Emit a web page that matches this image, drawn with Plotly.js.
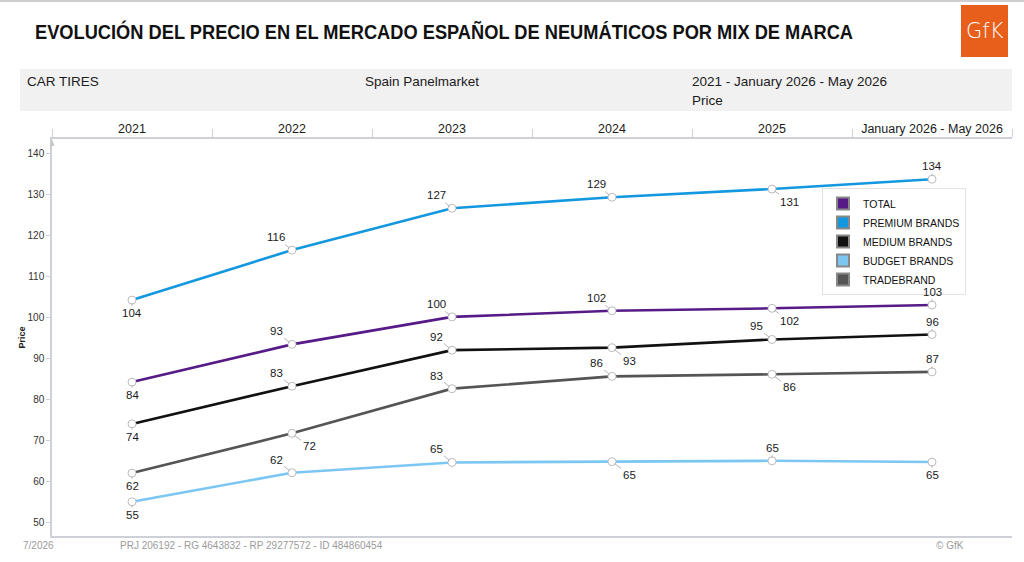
<!DOCTYPE html>
<html>
<head>
<meta charset="utf-8">
<script src="https://cdn.plot.ly/plotly-3.0.1.min.js"></script>
<style>
  html, body { margin: 0; padding: 0; background: #ffffff; }
  #chart { width: 1024px; height: 562px; }
</style>
</head>
<body>
<div id="chart"></div>
<script>
// ---- Data ----
const categories = ['2021', '2022', '2023', '2024', '2025', 'January 2026 - May 2026'];
const seriesNames = ['TOTAL', 'PREMIUM BRANDS', 'MEDIUM BRANDS', 'BUDGET BRANDS', 'TRADEBRAND'];
const total = [84.2, 93.4, 100.1, 101.6, 102.2, 103.0];
const premiumBrands = [104.2, 116.4, 126.6, 129.3, 131.3, 133.7];
const mediumBrands = [74.0, 83.2, 92.0, 92.6, 94.6, 95.8];
const budgetBrands = [55.0, 62.1, 64.6, 64.8, 65.0, 64.7];
const tradebrand = [62.0, 71.7, 82.6, 85.6, 86.1, 86.7];

// ---- Styles ----
const colors = {
  'TOTAL': '#561b87',
  'PREMIUM BRANDS': '#1398e0',
  'MEDIUM BRANDS': '#111111',
  'BUDGET BRANDS': '#7cc6f2',
  'TRADEBRAND': '#555555'
};
// label placement per point: b = below, t = above, tl = above-left, br = below-right
const labelPlacement = {
  'TOTAL': ['b', 'tl', 'tl', 'tl', 'br', 't'],
  'PREMIUM BRANDS': ['b', 'tl', 'tl', 'tl', 'br', 't'],
  'MEDIUM BRANDS': ['b', 'tl', 'tl', 'br', 'tl', 't'],
  'BUDGET BRANDS': ['b', 'tl', 'tl', 'br', 't', 'b'],
  'TRADEBRAND': ['b', 'br', 'tl', 'tl', 'br', 't']
};
const offsets = { b: [0, 13], t: [0, -13], tl: [-16, -13], br: [17, 13] };

const seriesValues = {
  'TOTAL': total,
  'PREMIUM BRANDS': premiumBrands,
  'MEDIUM BRANDS': mediumBrands,
  'BUDGET BRANDS': budgetBrands,
  'TRADEBRAND': tradebrand
};

// ---- Plot geometry (pixels) ----
const W = 1024, H = 562;
const L = 52, R = 1012, T = 139, B = 536;
const px = (x) => (x - L) / (R - L);
const py = (y) => (B - y) / (B - T);

const FONT = 'Liberation Sans, Arial, sans-serif';

const traces = [];
const drawOrder = ['BUDGET BRANDS', 'TRADEBRAND', 'MEDIUM BRANDS', 'TOTAL', 'PREMIUM BRANDS'];
drawOrder.forEach(name => {
  traces.push({
    type: 'scatter',
    mode: 'lines+markers',
    x: categories,
    y: seriesValues[name],
    name: name,
    showlegend: false,
    line: { color: colors[name], width: 2.6 },
    marker: { size: 8, color: '#ffffff', line: { color: '#bdbdbd', width: 1 } },
    hoverinfo: 'x+y+name'
  });
});
// legend entries (square swatches)
seriesNames.forEach(name => {
  traces.push({
    type: 'scatter',
    mode: 'markers',
    x: [null],
    y: [null],
    name: name,
    showlegend: true,
    marker: { symbol: 'square', size: 11, color: colors[name], line: { color: '#888', width: 0.5 } }
  });
});

const annotations = [];
seriesNames.forEach(name => {
  const vals = seriesValues[name];
  vals.forEach((v, i) => {
    const off = offsets[labelPlacement[name][i]];
    annotations.push({
      x: categories.indexOf(categories[i]), y: v, xref: 'x', yref: 'y',
      text: String(Math.round(v)),
      showarrow: true, arrowhead: 0, arrowwidth: 1, arrowcolor: '#b5b5b5',
      standoff: 3, ax: off[0], ay: off[1],
      font: { family: FONT, size: 11.5, color: '#1b1b1b' }
    });
  });
});

// header texts
const hdrFont = { family: FONT, size: 13.5, color: '#1b1b1b' };
annotations.push(
  { xref: 'paper', yref: 'paper', x: px(25), y: py(82), xanchor: 'left', yanchor: 'middle', text: 'CAR TIRES', showarrow: false, font: hdrFont },
  { xref: 'paper', yref: 'paper', x: px(363), y: py(82), xanchor: 'left', yanchor: 'middle', text: 'Spain Panelmarket', showarrow: false, font: hdrFont },
  { xref: 'paper', yref: 'paper', x: px(690), y: py(82), xanchor: 'left', yanchor: 'middle', text: '2021 - January 2026 - May 2026', showarrow: false, font: hdrFont },
  { xref: 'paper', yref: 'paper', x: px(690), y: py(100), xanchor: 'left', yanchor: 'middle', text: 'Price', showarrow: false, font: hdrFont }
);
// footer texts
const ftFont = { family: FONT, size: 10, color: '#9a9a9a' };
annotations.push(
  { xref: 'paper', yref: 'paper', x: px(21), y: py(545), xanchor: 'left', yanchor: 'middle', text: '7/2026', showarrow: false, font: ftFont },
  { xref: 'paper', yref: 'paper', x: px(118), y: py(545), xanchor: 'left', yanchor: 'middle', text: 'PRJ 206192 - RG 4643832 - RP 29277572 - ID 484860454', showarrow: false, font: ftFont },
  { xref: 'paper', yref: 'paper', x: px(934), y: py(545), xanchor: 'left', yanchor: 'middle', text: '© GfK', showarrow: false, font: ftFont }
);
// logo text
annotations.push(
  { xref: 'paper', yref: 'paper', x: px(984.5), y: py(31), xanchor: 'center', yanchor: 'middle', text: 'GfK', showarrow: false, font: { family: 'DejaVu Sans, sans-serif', size: 21, color: '#ffffff', weight: 300 } }
);

const shapes = [
  { type: 'line', xref: 'paper', yref: 'paper', x0: px(0), x1: px(1024), y0: py(1), y1: py(1), line: { color: '#cfcfcf', width: 2 } },
  { type: 'rect', xref: 'paper', yref: 'paper', x0: px(20), x1: px(1012), y0: py(111), y1: py(69), fillcolor: '#f1f1f1', line: { width: 0 }, layer: 'below' },
  { type: 'rect', xref: 'paper', yref: 'paper', x0: px(961), x1: px(1008), y0: py(57), y1: py(5), fillcolor: '#e85f1c', line: { width: 0 } },
  { type: 'path', xref: 'paper', yref: 'paper',
    path: 'M ' + px(49.5) + ' ' + py(146) + ' L ' + px(54.5) + ' ' + py(146) + ' L ' + px(52) + ' ' + py(139) + ' Z',
    fillcolor: '#c8c8c8', line: { width: 0 } }
];

const layout = {
  width: W, height: H,
  margin: { l: L, r: W - R, t: T, b: H - B, pad: 0 },
  paper_bgcolor: '#ffffff',
  plot_bgcolor: '#ffffff',
  font: { family: FONT, color: '#1b1b1b' },
  title: {
    text: 'EVOLUCIÓN DEL PRECIO EN EL MERCADO ESPAÑOL DE NEUMÁTICOS POR MIX DE MARCA',
    xref: 'container', yref: 'container',
    x: 35 / W, xanchor: 'left', y: 1 - 32 / H, yanchor: 'middle',
    font: { family: 'Liberation Sans, Arial, sans-serif', size: 20, color: '#111111', weight: 'bold' }
  },
  xaxis: {
    type: 'category',
    side: 'top',
    range: [-0.5, 5.5],
    showline: true, linecolor: '#cdd0d6', linewidth: 1.5, mirror: true,
    ticks: 'outside', tickson: 'boundaries', ticklen: 8, tickcolor: '#cdd0d6', tickwidth: 1,
    ticklabelstandoff: -1,
    tickfont: { family: FONT, size: 12.5, color: '#1b1b1b' },
    showgrid: false, zeroline: false, fixedrange: true
  },
  yaxis: {
    range: [46.66, 143.5],
    tickvals: [50, 60, 70, 80, 90, 100, 110, 120, 130, 140],
    showline: true, linecolor: '#cdd0d6', linewidth: 1.5,
    ticks: 'outside', ticklen: 4, tickcolor: '#cdd0d6',
    tickfont: { family: FONT, size: 10, color: '#333333' },
    showgrid: false, zeroline: false, fixedrange: true,
    title: { text: '<b>Price</b>', standoff: 0, font: { family: FONT, size: 9, color: '#222222' } }
  },
  legend: {
    x: px(822), y: py(188), xanchor: 'left', yanchor: 'top',
    bgcolor: '#ffffff', bordercolor: '#e2e2e2', borderwidth: 1,
    font: { family: FONT, size: 10.5, color: '#111111' },
    tracegroupgap: 0, itemsizing: 'constant'
  },
  annotations: annotations,
  shapes: shapes,
  showlegend: true,
  hovermode: 'closest'
};

Plotly.newPlot('chart', traces, layout, { displayModeBar: false, responsive: false }).then(gd => {
  // condense the title to the reference width, keeping it real text
  const t = gd.querySelector('.gtitle');
  if (t) {
    t.setAttribute('textLength', '818');
    t.setAttribute('lengthAdjust', 'spacingAndGlyphs');
  }
});
</script>
</body>
</html>
